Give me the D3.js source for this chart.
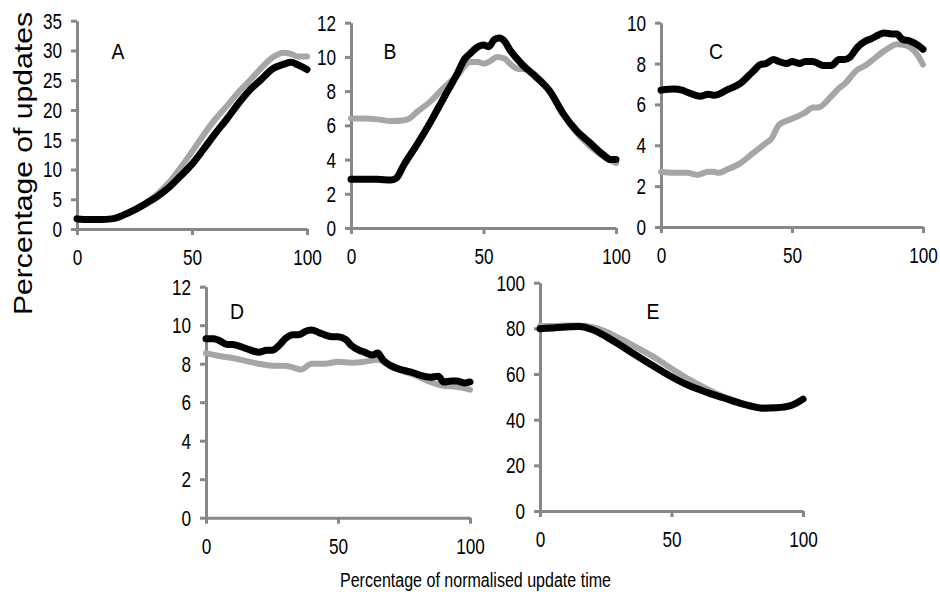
<!DOCTYPE html>
<html>
<head>
<meta charset="utf-8">
<script src="https://cdn.jsdelivr.net/npm/d3@7"></script>
<style>
  body { margin: 0; background: #fff; }
  svg { display: block; font-family: "Liberation Sans", Arial, sans-serif; }
</style>
</head>
<body>
<div id="chart"></div>
<script>

/*******************************/
/*          The data           */
/*******************************/
const xTicks = [0, 50, 100];

// Panel A
const aX     = [0, 5, 10, 15, 20, 25, 30, 35, 40, 45, 50, 55, 60, 65, 70, 75, 80, 85, 90, 93, 96, 100];
const aBlack = [1.7, 1.6, 1.6, 1.7, 2.3, 3.2, 4.3, 5.5, 7.0, 8.9, 10.9, 13.4, 16.0, 18.4, 21.0, 23.3, 25.1, 26.9, 27.7, 28.0, 27.6, 26.8];
const aGray  = [1.7, 1.6, 1.6, 1.7, 2.3, 3.2, 4.4, 5.9, 7.8, 10.3, 13.0, 15.8, 18.4, 20.6, 22.9, 24.9, 27.0, 28.8, 29.6, 29.4, 29.0, 29.0];
const aTicks = [0, 5, 10, 15, 20, 25, 30, 35];

// Panel B
const bX     = [0, 5, 10, 15, 17, 20, 25, 30, 35, 40, 43, 45, 48, 50, 52, 54, 56, 58, 60, 65, 70, 75, 80, 85, 90, 95, 98, 100];
const bBlack = [2.85, 2.85, 2.85, 2.8, 2.9, 3.7, 4.9, 6.2, 7.6, 9.0, 9.9, 10.2, 10.6, 10.7, 10.6, 11.0, 11.1, 10.9, 10.4, 9.5, 8.8, 8.0, 6.7, 5.7, 5.0, 4.3, 4.0, 4.0];
const bGX    = [0, 5, 10, 15, 20, 22, 25, 30, 35, 40, 45, 48, 50, 53, 55, 58, 60, 63, 65, 70, 75, 80, 85, 90, 95, 100];
const bGray  = [6.4, 6.4, 6.35, 6.25, 6.3, 6.4, 6.8, 7.4, 8.2, 8.9, 9.7, 9.7, 9.6, 9.8, 10.0, 9.9, 9.6, 9.3, 9.3, 8.9, 8.0, 6.7, 5.6, 4.8, 4.2, 3.8];
const bTicks = [0, 2, 4, 6, 8, 10, 12];

// Panel C
const cX     = [0, 5, 8, 10, 15, 18, 20, 22, 25, 30, 35, 38, 40, 43, 45, 48, 50, 53, 55, 58, 60, 62, 65, 68, 70, 72, 75, 78, 80, 83, 85, 88, 90, 92, 95, 98, 100];
const cBlack = [6.7, 6.75, 6.7, 6.6, 6.4, 6.5, 6.45, 6.5, 6.7, 7.0, 7.6, 7.95, 8.0, 8.2, 8.1, 8.0, 8.1, 8.0, 8.1, 8.1, 8.0, 7.9, 7.9, 8.2, 8.2, 8.3, 8.8, 9.1, 9.2, 9.4, 9.5, 9.45, 9.45, 9.2, 9.1, 8.9, 8.7];
const cGX    = [0, 5, 10, 14, 18, 20, 22, 25, 30, 35, 40, 42, 45, 48, 50, 55, 58, 60, 65, 68, 70, 75, 78, 80, 85, 88, 90, 93, 95, 98, 100];
const cGray  = [2.7, 2.65, 2.65, 2.55, 2.7, 2.7, 2.65, 2.8, 3.1, 3.6, 4.1, 4.3, 5.0, 5.2, 5.3, 5.6, 5.85, 5.85, 6.4, 6.8, 7.0, 7.7, 7.9, 8.1, 8.6, 8.85, 8.95, 8.9, 8.8, 8.4, 7.95];
const cTicks = [0, 2, 4, 6, 8, 10];

// Panel D
const dX     = [0, 3, 5, 8, 10, 15, 20, 23, 25, 28, 30, 33, 35, 38, 40, 43, 45, 48, 50, 53, 55, 58, 60, 63, 65, 67, 70, 75, 78, 80, 85, 88, 90, 93, 95, 98, 100];
const dBlack = [9.3, 9.3, 9.2, 9.0, 9.0, 8.8, 8.6, 8.7, 8.7, 9.0, 9.3, 9.5, 9.5, 9.7, 9.75, 9.6, 9.5, 9.4, 9.4, 9.25, 8.95, 8.7, 8.6, 8.45, 8.55, 8.2, 7.9, 7.65, 7.55, 7.45, 7.3, 7.35, 7.05, 7.1, 7.1, 7.0, 7.05];
const dGX    = [0, 5, 10, 15, 20, 25, 30, 33, 36, 40, 45, 50, 55, 60, 65, 70, 75, 80, 85, 90, 95, 100];
const dGray  = [8.55, 8.4, 8.3, 8.15, 8.0, 7.9, 7.9, 7.8, 7.7, 8.0, 8.0, 8.1, 8.05, 8.1, 8.2, 7.85, 7.6, 7.35, 7.05, 6.85, 6.8, 6.65];
const dTicks = [0, 2, 4, 6, 8, 10, 12];

// Panel E
const eX     = [0, 5, 10, 15, 20, 25, 30, 35, 40, 45, 50, 55, 60, 65, 70, 75, 80, 85, 90, 95, 100];
const eBlack = [79.8, 80.2, 80.6, 80.8, 79.4, 76.5, 73.0, 69.3, 65.7, 62.2, 58.8, 55.8, 53.4, 51.3, 49.5, 47.6, 46.0, 45.0, 45.2, 46.0, 49.0];
const eGray  = [81.0, 81.0, 81.2, 81.3, 80.5, 78.6, 75.8, 72.8, 69.6, 66.2, 62.4, 58.8, 55.6, 52.6, 50.0, 48.0, 46.3, 45.3, 45.3, 46.0, 49.0];
const eTicks = [0, 20, 40, 60, 80, 100];


/*******************************/
/*    Declare the constants    */
/*******************************/
const width = 940;
const height = 596;
const axisColor = "#888888";
const grayColor = "#a6a6a6";
const tickFont = 22;
const squeeze = 0.78;

// Panel frames in pixels (left, right, top, bottom of the plot area)
const panels = [
  {label: "A", left: 77,  right: 307, top: 20.7,  bottom: 229,   ticks: aTicks, gx: aX,  gray: aGray, bx: aX, black: aBlack, lx: 118, ly: 58.5},
  {label: "B", left: 351, right: 616, top: 22.7,  bottom: 228,   ticks: bTicks, gx: bGX, gray: bGray, bx: bX, black: bBlack, lx: 390, ly: 59.3},
  {label: "C", left: 661, right: 923, top: 22.7,  bottom: 227,   ticks: cTicks, gx: cGX, gray: cGray, bx: cX, black: cBlack, lx: 716, ly: 59.3},
  {label: "D", left: 206, right: 470, top: 286.7, bottom: 517.7, ticks: dTicks, gx: dGX, gray: dGray, bx: dX, black: dBlack, lx: 237, ly: 319.3},
  {label: "E", left: 540, right: 803, top: 282.7, bottom: 511,   ticks: eTicks, gx: eX,  gray: eGray, bx: eX, black: eBlack, lx: 653, ly: 318.7}
];


/*******************************/
/*    Append the containers    */
/*******************************/
const svg = d3.select("#chart")
  .append("svg")
    .attr("width", width)
    .attr("height", height)
    .attr("viewBox", `0, 0, ${width}, ${height}`);


/*******************************/
/*       Draw each panel       */
/*******************************/
panels.forEach(p => {
  const xScale = d3.scaleLinear()
    .domain([0, 100])
    .range([p.left, p.right]);
  const yScale = d3.scaleLinear()
    .domain([0, d3.max(p.ticks)])
    .range([p.bottom, p.top]);

  const g = svg.append("g");

  // Axes
  const bottomAxis = d3.axisBottom(xScale)
    .tickValues(xTicks)
    .tickSize(6)
    .tickSizeOuter(0);
  const xAxis = g.append("g")
    .attr("transform", `translate(0, ${p.bottom})`)
    .call(bottomAxis);

  const leftAxis = d3.axisLeft(yScale)
    .tickValues(p.ticks)
    .tickSize(6)
    .tickSizeOuter(0);
  const yAxis = g.append("g")
    .attr("transform", `translate(${p.left}, 0)`)
    .call(leftAxis);

  [xAxis, yAxis].forEach(ax => {
    ax.attr("font-size", null).attr("font-family", null);
    ax.select(".domain")
      .attr("stroke", axisColor)
      .attr("stroke-width", 3);
    ax.selectAll(".tick line")
      .attr("stroke", axisColor)
      .attr("stroke-width", 3);
    ax.selectAll(".tick text")
      .attr("fill", "#000")
      .attr("font-size", tickFont);
  });

  xAxis.selectAll(".tick text")
    .attr("y", 0)
    .attr("dy", 0)
    .attr("transform", `translate(0, 36) scale(${squeeze}, 1)`);
  yAxis.selectAll(".tick text")
    .attr("x", 0)
    .attr("dy", "0.34em")
    .attr("transform", `translate(-15, 0) scale(${squeeze}, 1)`);

  // Lines
  const line = d3.line()
    .x(d => xScale(d[0]))
    .y(d => yScale(d[1]))
    .curve(d3.curveMonotoneX);

  g.append("path")
    .attr("d", line(p.gx.map((x, i) => [x, p.gray[i]])))
    .attr("fill", "none")
    .attr("stroke", grayColor)
    .attr("stroke-width", 6)
    .attr("stroke-linecap", "round")
    .attr("stroke-linejoin", "round");

  g.append("path")
    .attr("d", line(p.bx.map((x, i) => [x, p.black[i]])))
    .attr("fill", "none")
    .attr("stroke", "#000")
    .attr("stroke-width", 7)
    .attr("stroke-linecap", "round")
    .attr("stroke-linejoin", "round");

  // Panel letter
  g.append("text")
    .text(p.label)
    .attr("text-anchor", "middle")
    .attr("transform", `translate(${p.lx}, ${p.ly}) scale(0.88, 1)`)
    .attr("font-size", 22);
});


/*******************************/
/*       Axis titles           */
/*******************************/
svg.append("text")
  .text("Percentage of updates")
  .attr("text-anchor", "middle")
  .attr("transform", "translate(32, 163.5) rotate(-90)")
  .attr("textLength", 303)
  .attr("lengthAdjust", "spacingAndGlyphs")
  .attr("font-size", 25);

svg.append("text")
  .text("Percentage of normalised update time")
  .attr("text-anchor", "middle")
  .attr("x", 475.5)
  .attr("y", 587)
  .attr("textLength", 271)
  .attr("lengthAdjust", "spacingAndGlyphs")
  .attr("font-size", 20);

</script>
</body>
</html>
